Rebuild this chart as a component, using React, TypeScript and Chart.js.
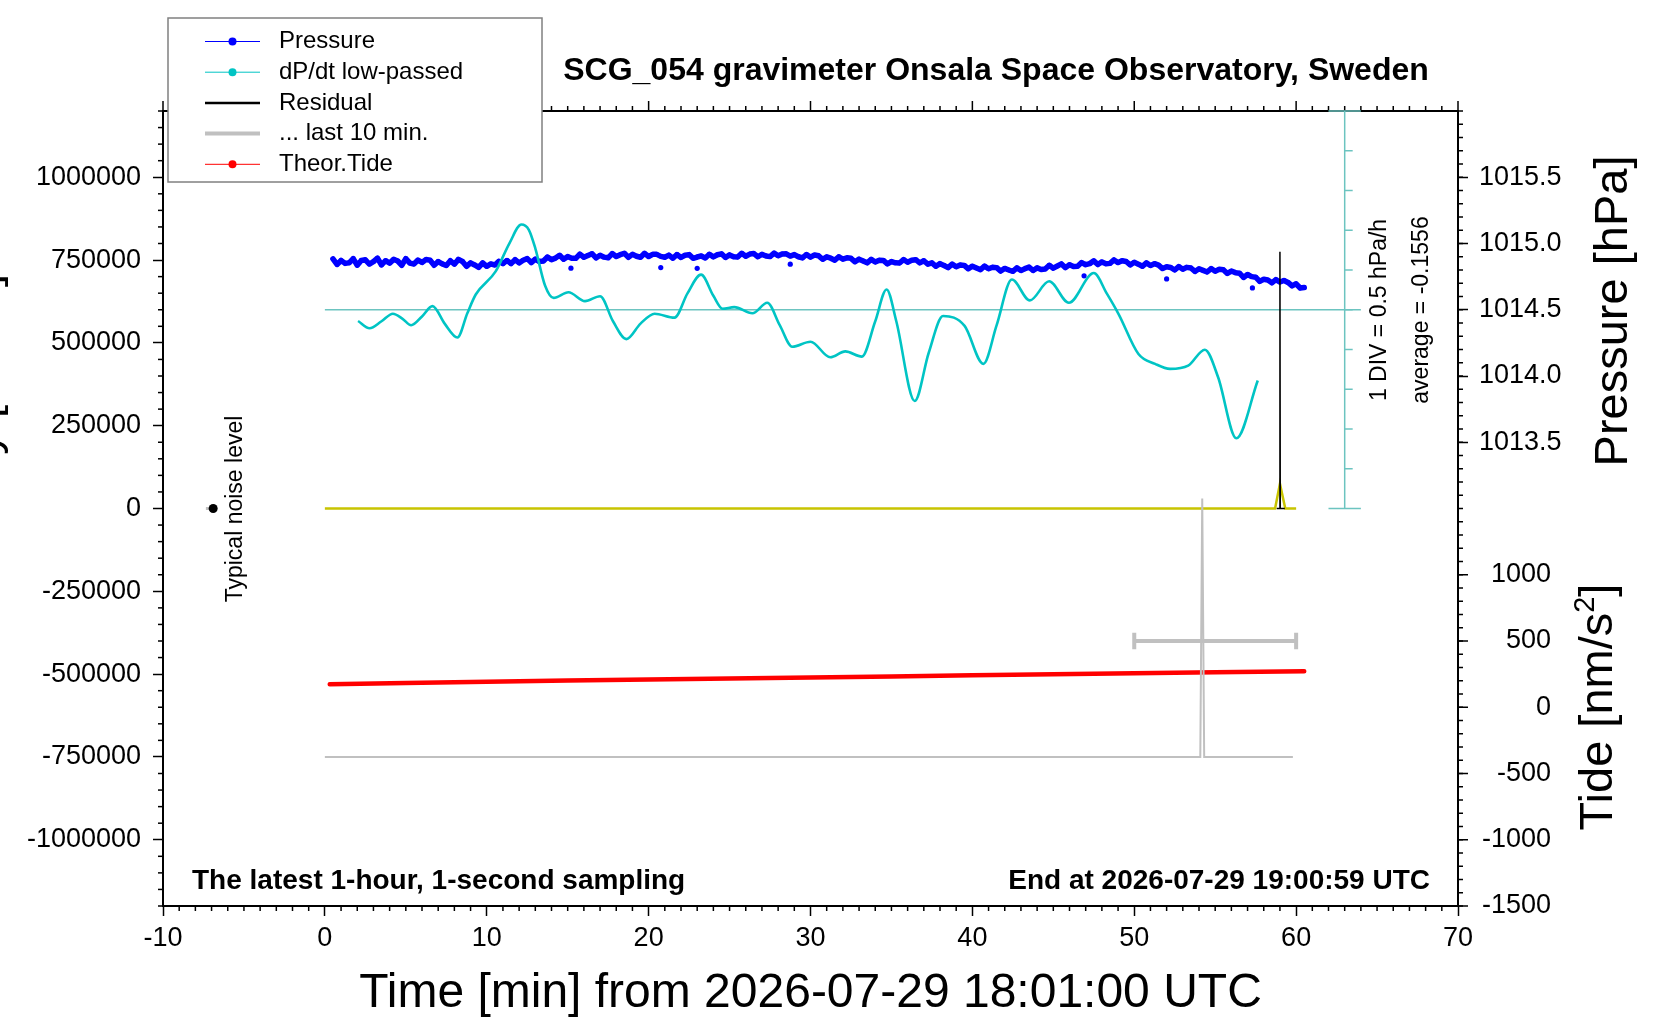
import { useEffect, useRef } from 'react'
import Chart from 'chart.js/auto'

const FONT = '"Liberation Sans", Arial, Helvetica, sans-serif'

// axis ticks
const TIME_TICKS = [-10, 0, 10, 20, 30, 40, 50, 60, 70]
const GRAVITY_TICKS = [-1000000, -750000, -500000, -250000, 0, 250000, 500000, 750000, 1000000]
const PRESSURE_TICKS = [1013.5, 1014.0, 1014.5, 1015.0, 1015.5]
const TIDE_TICKS = [-1500, -1000, -500, 0, 500, 1000]

// air pressure, one value every 15 s, in mhPa above 1014 hPa
const PRESSURE_START = 0.5
const PRESSURE_STEP = 0.25
const PRESSURE_MHPA = [
  884, 842, 872, 850, 854, 886, 836, 872, 877, 845, 863, 889, 838, 870, 852, 880,
  868, 836, 886, 852, 845, 875, 857, 879, 874, 836, 864, 846, 834, 870, 844, 880,
  864, 828, 854, 838, 820, 854, 828, 846, 838, 866, 848, 872, 848, 878, 854, 874,
  886, 856, 882, 864, 868, 898, 878, 890, 911, 881, 901, 889, 888, 920, 896, 910,
  923, 891, 911, 897, 892, 924, 902, 916, 926, 896, 918, 904, 896, 926, 902, 918,
  918, 903, 896, 912, 889, 917, 895, 911, 916, 888, 898, 906, 891, 919, 899, 915,
  922, 894, 914, 900, 898, 926, 904, 920, 924, 900, 918, 906, 901, 927, 907, 921,
  922, 905, 916, 900, 891, 917, 897, 913, 907, 881, 899, 889, 874, 900, 882, 892,
  888, 862, 882, 868, 854, 880, 860, 874, 872, 846, 864, 854, 853, 879, 859, 873,
  878, 854, 870, 844, 854, 828, 848, 834, 818, 844, 824, 838, 835, 809, 829, 815,
  803, 829, 809, 821, 818, 792, 812, 800, 790, 816, 796, 810, 822, 796, 816, 804,
  808, 836, 814, 830, 846, 818, 840, 826, 828, 856, 840, 848, 869, 841, 861, 847,
  850, 876, 856, 870, 864, 838, 858, 844, 828, 854, 834, 848, 837, 811, 824, 819,
  800, 826, 806, 820, 815, 789, 809, 797, 785, 811, 791, 805, 802, 774, 792, 780,
  776, 744, 766, 750, 746, 714, 730, 724, 703, 727, 709, 721, 706, 680, 696, 664,
  668,
]
// isolated low readings
const PRESSURE_STRAY_TIME = [15.2, 20.75, 23.0, 28.75, 46.9, 52.0, 57.3]
const PRESSURE_STRAY_MHPA = [814, 818, 813, 844, 756, 733, 665]

// low-passed dP/dt [hPa/h]
const DPDT_TIME = [
  2.05, 2.76, 3.5, 4.2, 4.8, 5.33, 6.0, 6.65, 7.4, 8.19, 8.8, 9.32, 10.55, 11.4, 12.14, 12.6,
  13.0, 13.6, 14.13, 15.05, 16.07, 17.0, 17.8, 18.63, 19.5, 20.37, 21.6, 22.4, 23.24, 24.0,
  24.57, 25.29, 26.41, 27.33, 28.1, 28.87, 30.0, 31.22, 32.15, 33.17, 34.0, 34.7, 35.3, 36.44,
  37.3, 38.19, 39.52, 40.68, 41.5, 42.44, 43.55, 44.74, 45.96, 47.5, 48.3, 49.04, 50.26, 51.29,
  52.21, 53.33, 54.36, 55.18, 56.31, 57.63,
]
const DPDT_VALUE = [
  -0.297, -0.388, -0.3, -0.205, -0.27, -0.35, -0.24, -0.11, -0.33, -0.505, -0.2, 0.036, 0.327, 0.68, 0.917, 0.85,
  0.617, 0.15, -0.006, 0.065, -0.047, 0.015, -0.3, -0.525, -0.33, -0.205, -0.255, 0.05, 0.286, 0.02,
  -0.143, -0.122, -0.2, -0.068, -0.35, -0.621, -0.558, -0.754, -0.679, -0.745, -0.3, 0.099, -0.3, -1.303,
  -0.7, -0.234, -0.359, -0.836, -0.35, 0.224, -0.038, 0.202, -0.068, 0.306, 0.05, -0.213, -0.712, -0.836,
  -0.899, -0.858, -0.658, -1.004, -1.772, -1.045,
]
const DPDT_AVERAGE = -0.1556
const DPDT_DIV = 0.5
const DPDT_AXIS_TIME = 63

// gravity residual [nm/s^2]
const RESIDUAL_TIME = [58.8, 58.98, 59.0, 59.02, 59.3]
const RESIDUAL_VALUE = [0, 0, 775000, 0, 0]
const FILTERED_TIME = [0, 58.7, 59.0, 59.33, 60]
const FILTERED_VALUE = [0, 0, 75000, 0, 0]

// last 10 minutes, drawn offset below
const LAST10_TIME = [0, 54.08, 54.2, 54.32, 59.8]
const LAST10_VALUE = [-750000, -750000, 30000, -750000, -750000]
const LAST10_RANGE = [50, 60]
const LAST10_LEVEL = -400000
const LAST10_CAP = 25000

// theoretical tide [nm/s^2]
const TIDE_TIME = [0.3, 5, 10, 15, 20, 25, 30, 35, 40, 45, 50, 55, 60.5]
const TIDE_VALUE = [174, 183, 192, 201, 209, 217, 225, 233, 241, 249, 256, 264, 272]

const NOISE_TIME = -6.9
const NOISE_LEVEL = 0
const NOISE_BAR = [-7.35, -6.9]

const LEGEND = [
  { label: 'Pressure', color: '#0000ff', width: 1, dot: true },
  { label: 'dP/dt low-passed', color: '#00c4c4', width: 1, dot: true },
  { label: 'Residual', color: '#000000', width: 2.5, dot: false },
  { label: '... last 10 min.', color: '#c0c0c0', width: 4, dot: false },
  { label: 'Theor.Tide', color: '#ff0000', width: 1, dot: true },
]

const pts = (xs: number[], ys: number[]) => xs.map((x, i) => ({ x, y: ys[i] }))

function seg(ctx: CanvasRenderingContext2D, x1: number, y1: number, x2: number, y2: number) {
  ctx.beginPath()
  ctx.moveTo(x1, y1)
  ctx.lineTo(x2, y2)
  ctx.stroke()
}

function upText(ctx: CanvasRenderingContext2D, text: string, x: number, y: number, font: string) {
  ctx.save()
  ctx.translate(x, y)
  ctx.rotate(-Math.PI / 2)
  ctx.font = font
  ctx.textAlign = 'center'
  ctx.textBaseline = 'middle'
  ctx.fillText(text, 0, 0)
  ctx.restore()
}

// rotated axis title with optional superscript, baseline at x
function upTitle(ctx: CanvasRenderingContext2D, x: number, y: number, size: number, before: string, sup: string, after: string) {
  ctx.save()
  ctx.translate(x, y)
  ctx.rotate(-Math.PI / 2)
  const big = `${size}px ${FONT}`
  const small = `${Math.round(size * 0.62)}px ${FONT}`
  ctx.font = big
  const w1 = ctx.measureText(before).width
  const w3 = ctx.measureText(after).width
  ctx.font = small
  const w2 = ctx.measureText(sup).width
  let cx = -(w1 + w2 + w3) / 2
  ctx.textAlign = 'left'
  ctx.textBaseline = 'alphabetic'
  ctx.font = big
  ctx.fillText(before, cx, 0)
  cx += w1
  ctx.font = small
  ctx.fillText(sup, cx, -size * 0.38)
  cx += w2
  ctx.font = big
  ctx.fillText(after, cx, 0)
  ctx.restore()
}

const decor = {
  id: 'decor',
  afterDraw(chart: any) {
    const { ctx, chartArea: a, scales } = chart
    const xs = scales.x, ys = scales.y, ps = scales.pressure, ts = scales.tide, ds = scales.dpdt
    ctx.save()
    ctx.fillStyle = '#000'
    ctx.strokeStyle = '#000'

    // top frame
    ctx.lineWidth = 2
    seg(ctx, a.left - 1, a.top, a.right + 1, a.top)

    // minor ticks, top ticks
    ctx.lineWidth = 1.5
    for (let t = -10; t <= 70; t++) {
      const x = xs.getPixelForValue(t)
      const major = t % 10 === 0
      if (!major) seg(ctx, x, a.bottom, x, a.bottom + 5)
      seg(ctx, x, a.top, x, a.top - (major ? 10 : 5))
    }
    for (let g = -1200000; g <= 1200000; g += 50000) {
      if (g % 250000 === 0) continue
      const y = ys.getPixelForValue(g)
      seg(ctx, a.left - 5, y, a.left, y)
    }
    for (let k = 0; k <= 60; k++) {
      const y = ps.getPixelForValue(1010 + k / 10)
      seg(ctx, a.right, y, a.right + 5, y)
    }

    // tide scale, sharing the right frame
    ctx.font = `27px ${FONT}`
    ctx.textAlign = 'right'
    ctx.textBaseline = 'middle'
    TIDE_TICKS.forEach((v) => {
      const y = ts.getPixelForValue(v)
      seg(ctx, a.right, y, a.right + 10, y)
      ctx.fillText(String(v), a.right + 93, y)
    })

    // dP/dt axis
    ctx.strokeStyle = '#6cc4c0'
    ctx.lineWidth = 1.5
    const xa = xs.getPixelForValue(DPDT_AXIS_TIME)
    const xl = xs.getPixelForValue(DPDT_AXIS_TIME - 1)
    const xr = xs.getPixelForValue(DPDT_AXIS_TIME + 1)
    const yt = ds.getPixelForValue(DPDT_AVERAGE + 5 * DPDT_DIV)
    const yb = ds.getPixelForValue(DPDT_AVERAGE - 5 * DPDT_DIV)
    seg(ctx, xa, yt, xa, yb)
    seg(ctx, xl, yt, xr, yt)
    seg(ctx, xl, yb, xr, yb)
    for (let k = -4; k <= 4; k++) {
      const y = ds.getPixelForValue(DPDT_AVERAGE + k * DPDT_DIV)
      seg(ctx, xa, y, xa + 8, y)
    }

    // texts
    ctx.fillStyle = '#000'
    upText(ctx, `1 DIV = ${DPDT_DIV} hPa/h`, 1380, 310, `23px ${FONT}`)
    upText(ctx, `average = ${DPDT_AVERAGE}`, 1422, 310, `23px ${FONT}`)
    upText(ctx, 'Typical noise level', 236, 509, `23px ${FONT}`)

    ctx.font = `bold 32px ${FONT}`
    ctx.textAlign = 'center'
    ctx.textBaseline = 'middle'
    ctx.fillText('SCG_054 gravimeter Onsala Space Observatory, Sweden', 996, 71)

    ctx.font = `bold 28px ${FONT}`
    ctx.textAlign = 'left'
    ctx.fillText('The latest 1-hour, 1-second sampling', 192, 881)
    ctx.textAlign = 'right'
    ctx.fillText('End at 2026-07-29 19:00:59 UTC', 1430, 881)

    upTitle(ctx, 1627, 311, 47, 'Pressure [hPa]', '', '')
    upTitle(ctx, 1612, 707, 47, 'Tide [nm/s', '2', ']')
    upTitle(ctx, -2, 427, 47, 'Gravity [nm/s', '2', ']')

    // legend
    ctx.fillStyle = '#fff'
    ctx.fillRect(168, 18, 374, 164)
    ctx.strokeStyle = '#808080'
    ctx.lineWidth = 1.5
    ctx.strokeRect(168, 18, 374, 164)
    ctx.font = `24px ${FONT}`
    ctx.textAlign = 'left'
    ctx.textBaseline = 'middle'
    LEGEND.forEach((e, i) => {
      const y = 41.5 + i * 30.7
      ctx.strokeStyle = e.color
      ctx.lineWidth = e.width
      seg(ctx, 205, y, 260, y)
      if (e.dot) {
        ctx.fillStyle = e.color
        ctx.beginPath()
        ctx.arc(232.5, y, 4, 0, Math.PI * 2)
        ctx.fill()
      }
      ctx.fillStyle = '#000'
      ctx.fillText(e.label, 279, y)
    })
    ctx.restore()
  },
}

const tickFont = { family: FONT, size: 27 }
const axisGrid = { drawOnChartArea: false, tickLength: 10, tickColor: '#000', tickWidth: 1.5 }
const axisBorder = { color: '#000', width: 2 }

export default function App() {
  const chartRef = useRef<HTMLCanvasElement>(null)

  useEffect(() => {
    if (!chartRef.current) return
    const ctx = chartRef.current.getContext('2d')
    if (!ctx) return

    const chart = new Chart(ctx, {
      type: 'line',
      data: {
        datasets: [
          {
            label: 'Residual',
            data: pts(RESIDUAL_TIME, RESIDUAL_VALUE),
            yAxisID: 'y',
            borderColor: '#000000',
            borderWidth: 1.5,
            pointRadius: 0,
            order: 0,
          },
          {
            label: 'noise',
            data: [{ x: NOISE_TIME, y: NOISE_LEVEL }],
            yAxisID: 'y',
            showLine: false,
            pointRadius: 4.5,
            pointBorderWidth: 0,
            backgroundColor: '#000000',
            order: 0,
          },
          {
            label: 'noise bar',
            data: NOISE_BAR.map((x) => ({ x, y: NOISE_LEVEL })),
            yAxisID: 'y',
            borderColor: '#c0c0c0',
            borderWidth: 3,
            pointRadius: 0,
            order: 1,
          },
          {
            label: '... last 10 min.',
            data: pts(LAST10_TIME, LAST10_VALUE),
            yAxisID: 'y',
            borderColor: '#c0c0c0',
            borderWidth: 2,
            pointRadius: 0,
            order: 1,
          },
          {
            label: 'last 10 range',
            data: [
              { x: LAST10_RANGE[0], y: LAST10_LEVEL + LAST10_CAP },
              { x: LAST10_RANGE[0], y: LAST10_LEVEL - LAST10_CAP },
              { x: LAST10_RANGE[0], y: LAST10_LEVEL },
              { x: LAST10_RANGE[1], y: LAST10_LEVEL },
              { x: LAST10_RANGE[1], y: LAST10_LEVEL + LAST10_CAP },
              { x: LAST10_RANGE[1], y: LAST10_LEVEL - LAST10_CAP },
            ],
            yAxisID: 'y',
            borderColor: '#c0c0c0',
            borderWidth: 4,
            pointRadius: 0,
            order: 2,
          },
          {
            label: 'filtered',
            data: pts(FILTERED_TIME, FILTERED_VALUE),
            yAxisID: 'y',
            borderColor: '#c8c400',
            borderWidth: 2.5,
            pointRadius: 0,
            order: 3,
          },
          {
            label: 'dP/dt low-passed',
            data: pts(DPDT_TIME, DPDT_VALUE),
            yAxisID: 'dpdt',
            borderColor: '#00c4c4',
            borderWidth: 2.6,
            pointRadius: 0,
            cubicInterpolationMode: 'monotone',
            order: 4,
          },
          {
            label: 'Pressure',
            data: PRESSURE_MHPA.map((v, i) => ({ x: PRESSURE_START + i * PRESSURE_STEP, y: 1014 + v / 1000 })),
            yAxisID: 'pressure',
            borderColor: '#0000ff',
            backgroundColor: '#0000ff',
            borderWidth: 5.5,
            borderJoinStyle: 'round',
            borderCapStyle: 'round',
            pointRadius: 2.4,
            pointBorderWidth: 0,
            order: 5,
          },
          {
            label: 'Pressure stray',
            data: PRESSURE_STRAY_TIME.map((x, i) => ({ x, y: 1014 + PRESSURE_STRAY_MHPA[i] / 1000 })),
            yAxisID: 'pressure',
            showLine: false,
            backgroundColor: '#0000ff',
            pointRadius: 2.6,
            pointBorderWidth: 0,
            order: 5,
          },
          {
            label: 'Theor.Tide',
            data: pts(TIDE_TIME, TIDE_VALUE),
            yAxisID: 'tide',
            borderColor: '#ff0000',
            borderWidth: 4.5,
            borderCapStyle: 'round',
            pointRadius: 0,
            order: 6,
          },
          {
            label: 'dP/dt average',
            data: [
              { x: 0, y: DPDT_AVERAGE },
              { x: DPDT_AXIS_TIME + 1, y: DPDT_AVERAGE },
            ],
            yAxisID: 'dpdt',
            borderColor: '#6cc4c0',
            borderWidth: 1.5,
            pointRadius: 0,
            order: 7,
          },
        ],
      },
      options: {
        animation: false,
        responsive: false,
        devicePixelRatio: 1,
        events: [],
        layout: { padding: { top: 111, right: 92, bottom: 0, left: 0 } },
        plugins: { legend: { display: false }, tooltip: { enabled: false } },
        scales: {
          x: {
            type: 'linear',
            position: 'bottom',
            min: -10,
            max: 70,
            afterBuildTicks: (s: any) => {
              s.ticks = TIME_TICKS.map((value) => ({ value }))
            },
            afterFit: (s: any) => {
              s.height = 114
            },
            ticks: { font: tickFont, color: '#000', padding: 6, maxRotation: 0, autoSkip: false, callback: (v: any) => String(v) },
            grid: axisGrid,
            border: axisBorder,
            title: {
              display: true,
              text: 'Time [min] from 2026-07-29 18:01:00 UTC',
              color: '#000',
              font: { family: FONT, size: 48, lineHeight: 1 },
              padding: { top: 0, bottom: 2 },
            },
          },
          y: {
            position: 'left',
            min: -1200000,
            max: 1200000,
            afterBuildTicks: (s: any) => {
              s.ticks = GRAVITY_TICKS.map((value) => ({ value }))
            },
            afterFit: (s: any) => {
              s.width = 163
            },
            ticks: { font: tickFont, color: '#000', padding: 12, autoSkip: false, callback: (v: any) => String(v) },
            grid: axisGrid,
            border: axisBorder,
          },
          pressure: {
            position: 'right',
            weight: 0,
            min: 1010,
            max: 1016,
            afterBuildTicks: (s: any) => {
              s.ticks = PRESSURE_TICKS.map((value) => ({ value }))
            },
            afterFit: (s: any) => {
              s.width = 110
            },
            ticks: { font: tickFont, color: '#000', padding: 11, crossAlign: 'near', autoSkip: false, callback: (v: any) => Number(v).toFixed(1) },
            grid: axisGrid,
            border: axisBorder,
          },
          tide: {
            display: false,
            position: 'right',
            weight: 1,
            min: -1500,
            max: 4500,
          },
          dpdt: {
            display: false,
            position: 'right',
            weight: 2,
            min: DPDT_AVERAGE - 15 * DPDT_DIV,
            max: DPDT_AVERAGE + 5 * DPDT_DIV,
          },
        },
      } as any,
      plugins: [decor],
    })

    return () => chart.destroy()
  }, [])

  return (
    <div style={{ position: 'absolute', left: 0, top: 0, width: 1660, height: 1020, background: '#fff' }}>
      <canvas ref={chartRef} width={1660} height={1020} style={{ display: 'block' }} />
    </div>
  )
}
